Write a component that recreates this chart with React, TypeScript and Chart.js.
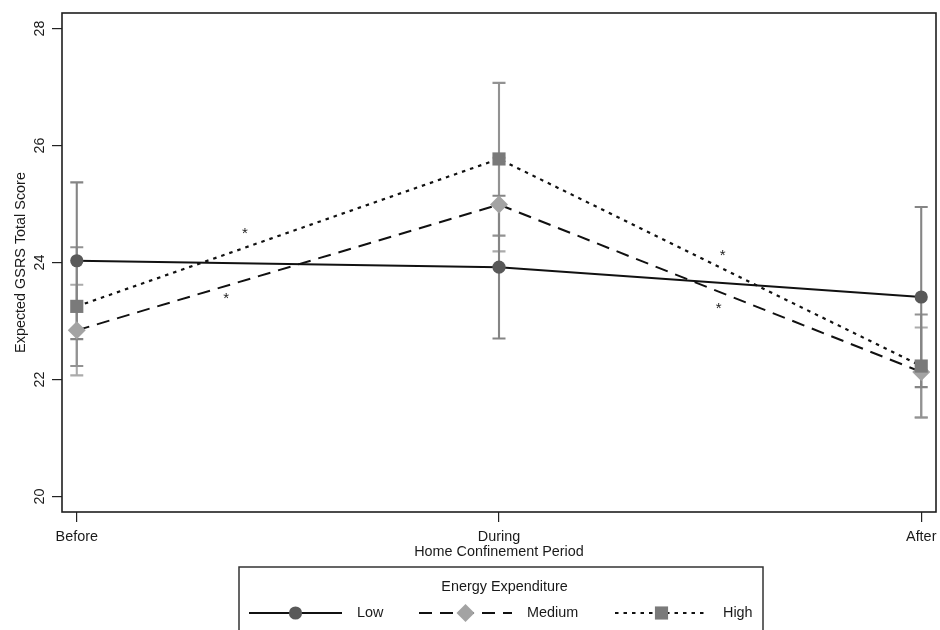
import React, { useEffect, useRef } from 'react';
import { Chart, registerables } from 'chart.js';

Chart.register(...registerables);

// ---- data ----
const periods = ['Before', 'During', 'After'];
const seriesNames = ['Low', 'Medium', 'High'];
const lowMean = [24.03, 23.92, 23.41];
const lowLo = [22.69, 22.7, 21.87];
const lowHi = [25.37, 25.14, 24.95];
const medMean = [22.84, 24.99, 22.13];
const medLo = [22.07, 24.19, 21.35];
const medHi = [23.62, 25.79, 22.89];
const highMean = [23.25, 25.77, 22.23];
const highLo = [22.23, 24.46, 21.35];
const highHi = [24.26, 27.07, 23.11];
const yTicks = [20, 22, 24, 26, 28];
const starX = [0.398, 0.354, 1.53, 1.52];
const starY = [24.57, 23.45, 24.19, 23.28];

const FONT = '"Liberation Sans", Arial, sans-serif';
const FS = 14.4;
const TXT = '#1a1a1a';

const styles = [
  { line: '#111', dash: [] as number[], width: 1.9, marker: 'circle', fill: '#595959', r: 6.6, bar: '#858585' },
  { line: '#111', dash: [13, 8], width: 2, marker: 'diamond', fill: '#a3a3a3', r: 9, bar: '#ababab' },
  { line: '#111', dash: [3.5, 5], width: 2.2, marker: 'square', fill: '#7a7a7a', r: 9.3, bar: '#929292' },
];

const means = [lowMean, medMean, highMean];
const los = [lowLo, medLo, highLo];
const his = [lowHi, medHi, highHi];

function drawMarker(ctx: CanvasRenderingContext2D, kind: string, x: number, y: number, r: number, fill: string) {
  ctx.save();
  ctx.fillStyle = fill;
  ctx.beginPath();
  if (kind === 'circle') {
    ctx.arc(x, y, r, 0, Math.PI * 2);
  } else if (kind === 'diamond') {
    ctx.moveTo(x, y - r);
    ctx.lineTo(x + r, y);
    ctx.lineTo(x, y + r);
    ctx.lineTo(x - r, y);
    ctx.closePath();
  } else {
    const h = r * Math.SQRT1_2;
    ctx.rect(x - h, y - h, 2 * h, 2 * h);
  }
  ctx.fill();
  ctx.restore();
}

const decorPlugin = {
  id: 'decor',
  beforeDatasetsDraw(chart: any) {
    const { ctx } = chart;
    const xs = chart.scales.x;
    const ys = chart.scales.y;
    ctx.save();
    [1, 2, 0].forEach((s) => {
      ctx.strokeStyle = styles[s].bar;
      ctx.lineWidth = 2.1;
      for (let i = 0; i < periods.length; i++) {
        const px = xs.getPixelForValue(i);
        const y1 = ys.getPixelForValue(los[s][i]);
        const y2 = ys.getPixelForValue(his[s][i]);
        ctx.beginPath();
        ctx.moveTo(px, y1);
        ctx.lineTo(px, y2);
        ctx.moveTo(px - 6.5, y1);
        ctx.lineTo(px + 6.5, y1);
        ctx.moveTo(px - 6.5, y2);
        ctx.lineTo(px + 6.5, y2);
        ctx.stroke();
      }
    });
    ctx.restore();
  },
  afterDatasetsDraw(chart: any) {
    const { ctx } = chart;
    const xs = chart.scales.x;
    const ys = chart.scales.y;
    [0, 1, 2].forEach((s) => {
      for (let i = 0; i < periods.length; i++) {
        drawMarker(ctx, styles[s].marker, xs.getPixelForValue(i), ys.getPixelForValue(means[s][i]), styles[s].r, styles[s].fill);
      }
    });
  },
  afterDraw(chart: any) {
    const { ctx, chartArea } = chart;
    const xs = chart.scales.x;
    const ys = chart.scales.y;
    ctx.save();
    // frame
    ctx.strokeStyle = '#1e1e1e';
    ctx.lineWidth = 1.6;
    ctx.strokeRect(chartArea.left, chartArea.top, chartArea.right - chartArea.left, chartArea.bottom - chartArea.top);

    ctx.fillStyle = TXT;
    ctx.font = `${FS}px ${FONT}`;
    // y tick labels rotated
    yTicks.forEach((v) => {
      const py = ys.getPixelForValue(v);
      ctx.save();
      ctx.translate(40, py);
      ctx.rotate(-Math.PI / 2);
      ctx.textAlign = 'center';
      ctx.textBaseline = 'middle';
      ctx.fillText(String(v), 0, 0);
      ctx.restore();
    });
    // y title
    ctx.save();
    ctx.translate(21, (chartArea.top + chartArea.bottom) / 2);
    ctx.rotate(-Math.PI / 2);
    ctx.textAlign = 'center';
    ctx.textBaseline = 'middle';
    ctx.fillText('Expected GSRS Total Score', 0, 0);
    ctx.restore();
    // x title
    ctx.textAlign = 'center';
    ctx.textBaseline = 'middle';
    ctx.fillText('Home Confinement Period', (chartArea.left + chartArea.right) / 2, 552.5);

    // asterisks
    ctx.font = `15px ${FONT}`;
    ctx.textAlign = 'center';
    ctx.textBaseline = 'alphabetic';
    for (let k = 0; k < starX.length; k++) {
      ctx.fillText('*', xs.getPixelForValue(starX[k]), ys.getPixelForValue(starY[k]) + 15 * 0.57);
    }
    ctx.font = `${FS}px ${FONT}`;

    // legend box
    const bx = 239, by = 567, bw = 524;
    ctx.fillStyle = '#fff';
    ctx.fillRect(bx, by, bw, 80);
    ctx.strokeStyle = '#333';
    ctx.lineWidth = 1.5;
    ctx.strokeRect(bx, by, bw, 80);
    ctx.fillStyle = TXT;
    ctx.textAlign = 'center';
    ctx.textBaseline = 'middle';
    ctx.fillText('Energy Expenditure', 504.5, 587);
    const rowY = 613;
    const keyStart = [249, 419, 615];
    const keyLen = 93;
    const labelX = [357, 527, 723];
    for (let s = 0; s < 3; s++) {
      ctx.save();
      ctx.strokeStyle = styles[s].line;
      ctx.lineWidth = styles[s].width;
      ctx.setLineDash(styles[s].dash);
      ctx.beginPath();
      ctx.moveTo(keyStart[s], rowY);
      ctx.lineTo(keyStart[s] + keyLen, rowY);
      ctx.stroke();
      ctx.restore();
      drawMarker(ctx, styles[s].marker, keyStart[s] + keyLen / 2, rowY, styles[s].r, styles[s].fill);
      ctx.fillStyle = TXT;
      ctx.textAlign = 'left';
      ctx.textBaseline = 'middle';
      ctx.fillText(seriesNames[s], labelX[s], rowY);
    }
    ctx.restore();
  },
};

export default function App() {
  const ref = useRef<HTMLCanvasElement | null>(null);
  useEffect(() => {
    if (!ref.current) return;
    const mk = (vals: number[]) => vals.map((v, i) => ({ x: i, y: v }));
    const chart = new Chart(ref.current, {
      type: 'line',
      data: {
        datasets: [0, 1, 2].map((s) => ({
          label: seriesNames[s],
          data: mk(means[s]),
          borderColor: styles[s].line,
          borderWidth: styles[s].width,
          borderDash: styles[s].dash,
          pointRadius: 0,
          pointHoverRadius: 0,
          fill: false,
          tension: 0,
          order: 2 - s,
        })),
      },
      options: {
        animation: false,
        responsive: false,
        maintainAspectRatio: false,
        layout: { padding: { top: 13, right: 4, left: 0, bottom: 0 } },
        plugins: { legend: { display: false }, tooltip: { enabled: false }, title: { display: false } },
        scales: {
          x: {
            type: 'linear',
            min: -0.035,
            max: 2.035,
            afterBuildTicks: (s: any) => {
              s.ticks = [0, 1, 2].map((v) => ({ value: v }));
            },
            ticks: {
              callback: (v: any) => periods[Math.round(Number(v))],
              font: { size: FS, family: FONT },
              color: TXT,
              padding: 6,
              maxRotation: 0,
              minRotation: 0,
              autoSkip: false,
            },
            grid: { drawOnChartArea: false, drawTicks: true, tickLength: 10, color: '#222', lineWidth: 1.2 },
            border: { display: false },
            afterFit: (s: any) => {
              s.height = 118;
              s.paddingLeft = 0;
              s.paddingRight = 0;
            },
          },
          y: {
            type: 'linear',
            min: 19.735,
            max: 28.265,
            afterBuildTicks: (s: any) => {
              s.ticks = yTicks.map((v) => ({ value: v }));
            },
            ticks: { display: false },
            grid: { drawOnChartArea: false, drawTicks: true, tickLength: 10, color: '#222', lineWidth: 1.2 },
            border: { display: false },
            afterFit: (s: any) => {
              s.width = 62;
              s.paddingTop = 0;
              s.paddingBottom = 0;
            },
          },
        },
      },
      plugins: [decorPlugin],
    });
    return () => chart.destroy();
  }, []);
  return (
    <div style={{ position: 'fixed', left: 0, top: 0, width: 940, height: 630, background: '#fff' }}>
      <canvas ref={ref} width={940} height={630} style={{ width: 940, height: 630 }} />
    </div>
  );
}
